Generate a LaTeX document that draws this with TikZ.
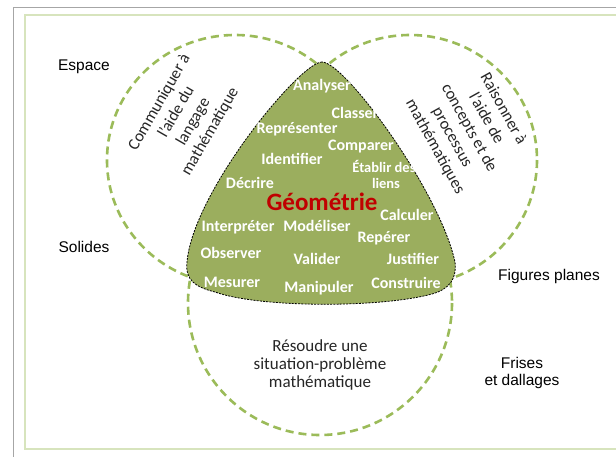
\documentclass[tikz,border=0pt]{standalone}
\usepackage{fontspec}
\setmainfont{Carlito}
\newfontfamily\arialf{Liberation Sans}
\definecolor{circ}{RGB}{155,187,89}
\definecolor{geofill}{RGB}{155,174,94}
\definecolor{frameg}{RGB}{215,228,189}
\definecolor{frameq}{RGB}{166,166,166}
\definecolor{geored}{RGB}{192,0,0}
\begin{document}
\begin{tikzpicture}[x=1pt,y=-1pt,
  venn/.style={draw=circ, line width=2.6pt, dash pattern=on 8pt off 5pt},
  verb/.style={text=white, font=\bfseries\fontsize{16}{18}\selectfont, inner sep=0pt},
  verbsmall/.style={text=white, font=\bfseries\fontsize{14.5}{17}\selectfont, inner sep=0pt},
  side/.style={font=\arialf\fontsize{15.5}{17}\selectfont, text=black, align=center, inner sep=0pt},
  rot/.style={font=\fontsize{16.5}{19.5}\selectfont, text=black!85, align=center, inner sep=0pt},
  geoshape/.style={fill=geofill, draw=black, line width=0.8pt, dash pattern=on 2pt off 1.2pt}]
\useasboundingbox (0,0) rectangle (616,456);
\fill[white] (0,0) rectangle (616,456);
\draw[frameq, line width=1pt] (13,7) rectangle (660,500);
\draw[frameg, line width=2.2pt] (25,15) rectangle (650,449);
% circles
\draw[venn] (235,160) ellipse [x radius=128, y radius=125];
\draw[venn] (410,160) ellipse [x radius=127, y radius=125];
\draw[venn] (320,303) circle [radius=132];
% central shape
\path[geoshape] (322,62) .. controls (300,62) and (193,192) .. (187,262)
  .. controls (185,280) and (195,287) .. (215,292)
  .. controls (260,308) and (380,308) .. (432,294)
  .. controls (450,289) and (457,278) .. (455,262)
  .. controls (440,192) and (345,62) .. (322,62) -- cycle;
% outer labels
\node[side] (espace) at (84,67) {Espace};
\node[side] (solides) at (84,247) {Solides};
\node[side] (figures) at (549,276) {Figures planes};
\node[side] (frises) at (522,373) {Frises\\et dallages};
% circle texts
\node[rot, rotate=60] (comm) at (185,117) {Communiquer à\\l'aide du\\langage\\mathématique};
\node[rot, rotate=-61] (rais) at (469,128) {Raisonner à\\l'aide de\\concepts et de\\processus\\mathématiques};
\node[rot, font=\fontsize{17}{18}\selectfont] (resoudre) at (320,365) {Résoudre une\\situation-problème\\mathématique};
% verbs
\node[verb] (analyser) at (322,86) {Analyser};
\node[verb] (classer) at (355,113) {Classer};
\node[verb] (representer) at (297,129) {Représenter};
\node[verb] (comparer) at (361,147) {Comparer};
\node[verb] (identifier) at (292,159) {Identifier};
\node[verbsmall] (etablir) at (384,166) {Établir des};
\node[verbsmall] (liens) at (386,183) {liens};
\node[verb] (decrire) at (250,183) {Décrire};
\node[text=geored, font=\bfseries\fontsize{25}{28}\selectfont, inner sep=0pt] (geo) at (322,202) {Géométrie};
\node[verb] (calculer) at (407,215) {Calculer};
\node[verb] (interpreter) at (238,227) {Interpréter};
\node[verb] (modeliser) at (317,226) {Modéliser};
\node[verb] (reperer) at (384,238) {Repérer};
\node[verb] (observer) at (231,253) {Observer};
\node[verb] (valider) at (317,259) {Valider};
\node[verb] (justifier) at (413,259) {Justifier};
\node[verb] (mesurer) at (232,282) {Mesurer};
\node[verb] (manipuler) at (319,288) {Manipuler};
\node[verb] (construire) at (406,283) {Construire};
\end{tikzpicture}
\end{document}
